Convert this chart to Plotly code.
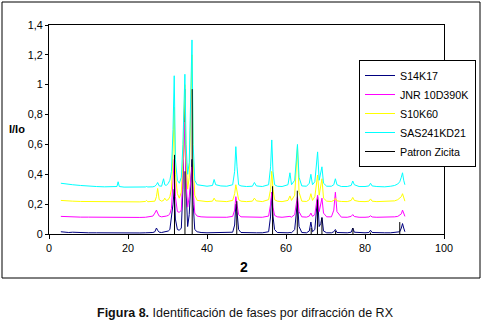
import plotly.graph_objects as go

# 2-theta grid (degrees)
two_theta = [
    3, 4, 5, 6, 8, 10, 12, 14, 16, 17.2,
    17.5, 17.8, 19, 21, 23, 24.4, 24.7, 25.0, 26.3, 26.8,
    27.2, 27.5, 27.9, 28.5, 29.0, 29.3, 29.7, 30.2, 30.6, 31.0,
    31.4, 31.7, 32.0, 32.5, 33.0, 33.5, 33.9, 34.2, 34.4, 34.7,
    35.1, 35.5, 35.8, 36.0, 36.2, 36.5, 36.9, 37.5, 38.5, 40,
    41.4, 41.8, 42.2, 43.5, 45, 46.5, 47.0, 47.3, 47.6, 48.0,
    48.6, 50, 51.5, 52.0, 52.5, 54, 55.6, 56.1, 56.4, 56.7,
    57.1, 57.8, 59, 60.5, 61.0, 61.4, 62.2, 62.6, 62.9, 63.3,
    64.0, 65.2, 65.9, 66.3, 66.7, 67.3, 67.7, 68.0, 68.4, 68.8,
    69.1, 69.5, 70.3, 71.5, 72.1, 72.5, 72.9, 74, 75.5, 76.5,
    76.9, 77.3, 78.5, 80, 81.0, 81.4, 81.8, 83, 85, 86.5,
    87.5, 88.3, 88.8, 89.2, 89.5, 89.8, 90.1,
]

s14k17 = [
    0.015, 0.012, 0.01, 0.012, 0.008, 0.008, 0.008, 0.007, 0.007, 0.008,
    0.008, 0.007, 0.007, 0.007, 0.007, 0.008, 0.008, 0.008, 0.01, 0.015,
    0.04, 0.025, 0.012, 0.01, 0.012, 0.015, 0.015, 0.02, 0.03, 0.1,
    0.2, 0.3, 0.1, 0.03, 0.025, 0.04, 0.3, 0.7, 0.97, 0.3,
    0.05, 0.13, 0.3, 0.45, 0.5, 0.2, 0.03, 0.015, 0.01, 0.008,
    0.008, 0.01, 0.008, 0.008, 0.008, 0.012, 0.06, 0.2, 0.15, 0.03,
    0.01, 0.008, 0.008, 0.01, 0.008, 0.008, 0.015, 0.12, 0.28, 0.12,
    0.03, 0.01, 0.008, 0.008, 0.01, 0.008, 0.03, 0.15, 0.22, 0.05,
    0.01, 0.008, 0.02, 0.08, 0.015, 0.03, 0.18, 0.25, 0.05, 0.07,
    0.11, 0.02, 0.008, 0.008, 0.015, 0.03, 0.01, 0.008, 0.008, 0.012,
    0.04, 0.012, 0.008, 0.008, 0.01, 0.025, 0.01, 0.008, 0.008, 0.008,
    0.01, 0.012, 0.015, 0.04, 0.07, 0.04, 0.015,
]

jnr10d390k = [
    0.118, 0.116, 0.115, 0.115, 0.113, 0.113, 0.112, 0.112, 0.111, 0.112,
    0.112, 0.111, 0.111, 0.11, 0.111, 0.112, 0.113, 0.112, 0.12, 0.14,
    0.16, 0.14, 0.12, 0.115, 0.115, 0.118, 0.12, 0.125, 0.135, 0.17,
    0.35, 0.5, 0.25, 0.15, 0.145, 0.16, 0.4, 0.65, 0.75, 0.35,
    0.18, 0.25, 0.35, 0.42, 0.45, 0.3, 0.14, 0.12, 0.115, 0.113,
    0.113, 0.115, 0.113, 0.112, 0.112, 0.118, 0.16, 0.25, 0.2, 0.13,
    0.115, 0.113, 0.112, 0.115, 0.112, 0.112, 0.12, 0.2, 0.28, 0.18,
    0.125, 0.115, 0.112, 0.113, 0.118, 0.113, 0.13, 0.2, 0.25, 0.15,
    0.115, 0.113, 0.12, 0.14, 0.118, 0.13, 0.2, 0.26, 0.15, 0.2,
    0.24, 0.14, 0.115, 0.115, 0.16, 0.28, 0.15, 0.113, 0.112, 0.118,
    0.13, 0.117, 0.112, 0.112, 0.114, 0.122, 0.114, 0.112, 0.112, 0.113,
    0.115, 0.118, 0.125, 0.135, 0.16, 0.13, 0.118,
]

s10k60 = [
    0.225, 0.222, 0.22, 0.22, 0.218, 0.217, 0.218, 0.216, 0.215, 0.216,
    0.218, 0.216, 0.215, 0.214, 0.215, 0.218, 0.225, 0.216, 0.216, 0.22,
    0.25, 0.305, 0.23, 0.22, 0.225, 0.24, 0.225, 0.23, 0.25, 0.3,
    0.55, 0.85, 0.4, 0.27, 0.24, 0.28, 0.5, 0.8, 1.0, 0.5,
    0.3, 0.38, 0.75, 0.95, 1.2, 0.5, 0.26, 0.225, 0.22, 0.217,
    0.22, 0.24, 0.222, 0.218, 0.217, 0.225, 0.27, 0.33, 0.29, 0.23,
    0.22, 0.217, 0.22, 0.24, 0.222, 0.217, 0.23, 0.3, 0.42, 0.3,
    0.23, 0.22, 0.217, 0.225, 0.255, 0.225, 0.26, 0.45, 0.585, 0.28,
    0.22, 0.218, 0.23, 0.27, 0.225, 0.25, 0.33, 0.395, 0.26, 0.33,
    0.37, 0.24, 0.22, 0.218, 0.225, 0.24, 0.222, 0.218, 0.217, 0.225,
    0.245, 0.225, 0.218, 0.217, 0.22, 0.235, 0.22, 0.217, 0.217, 0.22,
    0.222, 0.23, 0.24, 0.25, 0.27, 0.24, 0.22,
]

sas241kd21 = [
    0.34, 0.335, 0.33, 0.33, 0.325, 0.32, 0.318, 0.316, 0.315, 0.318,
    0.35, 0.318, 0.314, 0.313, 0.314, 0.315, 0.318, 0.315, 0.316, 0.32,
    0.33, 0.345, 0.322, 0.32, 0.37, 0.33, 0.325, 0.34, 0.36, 0.42,
    0.7, 1.06, 0.5, 0.36, 0.34, 0.38, 0.6, 0.85, 1.07, 0.6,
    0.4, 0.48, 0.85, 1.0, 1.30, 0.6, 0.36, 0.33, 0.325, 0.32,
    0.325, 0.365, 0.33, 0.322, 0.32, 0.33, 0.42, 0.585, 0.45, 0.33,
    0.322, 0.318, 0.32, 0.345, 0.322, 0.318, 0.33, 0.45, 0.63, 0.42,
    0.33, 0.32, 0.318, 0.33, 0.41, 0.33, 0.36, 0.5, 0.60, 0.38,
    0.322, 0.32, 0.34, 0.40, 0.33, 0.35, 0.45, 0.55, 0.36, 0.42,
    0.45, 0.34, 0.32, 0.32, 0.33, 0.37, 0.33, 0.318, 0.318, 0.325,
    0.355, 0.33, 0.318, 0.318, 0.322, 0.34, 0.322, 0.318, 0.316, 0.32,
    0.325, 0.335, 0.35, 0.38, 0.41, 0.36, 0.33,
]

# Zincite reference pattern (stick lines)
patron_pos = [31.77, 34.42, 36.25, 47.54, 56.60, 62.86, 66.38, 67.96, 69.10, 72.56, 76.95, 81.37, 88.8]
patron_int = [0.53, 0.42, 0.97, 0.22, 0.32, 0.29, 0.04, 0.23, 0.11, 0.02, 0.04, 0.01, 0.08]

series_names = ["S14K17", "JNR 10D390K", "S10K60", "SAS241KD21", "Patron Zicita"]
series_colors = ["#000080", "#FF00FF", "#FFFF00", "#00FFFF", "#000000"]

FONT = "Liberation Sans, Arial, sans-serif"

fig = go.Figure()
for name, ys, col in zip(series_names[:4], [s14k17, jnr10d390k, s10k60, sas241kd21], series_colors[:4]):
    fig.add_trace(go.Scatter(x=two_theta, y=ys, mode="lines", name=name,
                             line=dict(color=col, width=1)))

px_x, px_y = [], []
for p, h in zip(patron_pos, patron_int):
    px_x += [p, p, None]
    px_y += [0, h, None]
fig.add_trace(go.Scatter(x=px_x, y=px_y, mode="lines", name=series_names[4],
                         line=dict(color=series_colors[4], width=1), connectgaps=False))

L, R, T, B = 49, 444, 25, 234
W, H = 483, 320
pw, ph = R - L, B - T

def fx(px):
    return (px - L) / pw

def fy(py):
    return (B - py) / ph

fig.update_layout(
    width=W, height=H, autosize=False,
    margin=dict(l=L, r=W - R, t=T, b=H - B, pad=0, autoexpand=False),
    paper_bgcolor="white", plot_bgcolor="white",
    separators=",.",
    font=dict(family=FONT, size=10.8, color="#000"),
    showlegend=True,
    legend=dict(xref="container", yref="container",
                x=476 / W, y=1 - 60 / H, xanchor="right", yanchor="top",
                bgcolor="white", bordercolor="black", borderwidth=1,
                font=dict(family=FONT, size=10.7, color="#000"),
                itemwidth=30, tracegroupgap=0),
    xaxis=dict(range=[0, 100], tick0=0, dtick=20, showgrid=False, zeroline=False,
               showline=True, linecolor="black", linewidth=1, mirror=True,
               ticks="outside", ticklen=4, tickcolor="black", automargin=False,
               tickfont=dict(family=FONT, size=10.8, color="#000")),
    yaxis=dict(range=[0, 1.4], tick0=0, dtick=0.2, showgrid=False, zeroline=False,
               showline=True, linecolor="black", linewidth=1, mirror=True,
               ticks="outside", ticklen=3, tickcolor="black", automargin=False,
               tickfont=dict(family=FONT, size=10.8, color="#000")),
    shapes=[dict(type="rect", xref="paper", yref="paper",
                 x0=fx(2), x1=fx(480), y0=fy(278), y1=fy(2),
                 line=dict(color="black", width=1), fillcolor="rgba(0,0,0,0)")],
    annotations=[
        dict(text="<b>I/Io</b>", xref="paper", yref="paper", x=fx(7), y=fy(129),
             xanchor="left", yanchor="middle", showarrow=False,
             font=dict(family=FONT, size=11, color="#000")),
        dict(text="<b>2</b>", xref="paper", yref="paper", x=fx(244), y=fy(267),
             xanchor="center", yanchor="middle", showarrow=False,
             font=dict(family=FONT, size=14, color="#000")),
        dict(text="<b>Figura 8.</b> Identificación de fases por difracción de RX",
             xref="paper", yref="paper", x=fx(245), y=fy(313),
             xanchor="center", yanchor="middle", showarrow=False,
             font=dict(family=FONT, size=12.5, color="#111")),
    ],
)

fig.write_html("out.html",
               config={"displayModeBar": False, "responsive": False},
               default_width="483px", default_height="320px",
               post_script="document.body.style.margin='0';document.body.style.padding='0';")
